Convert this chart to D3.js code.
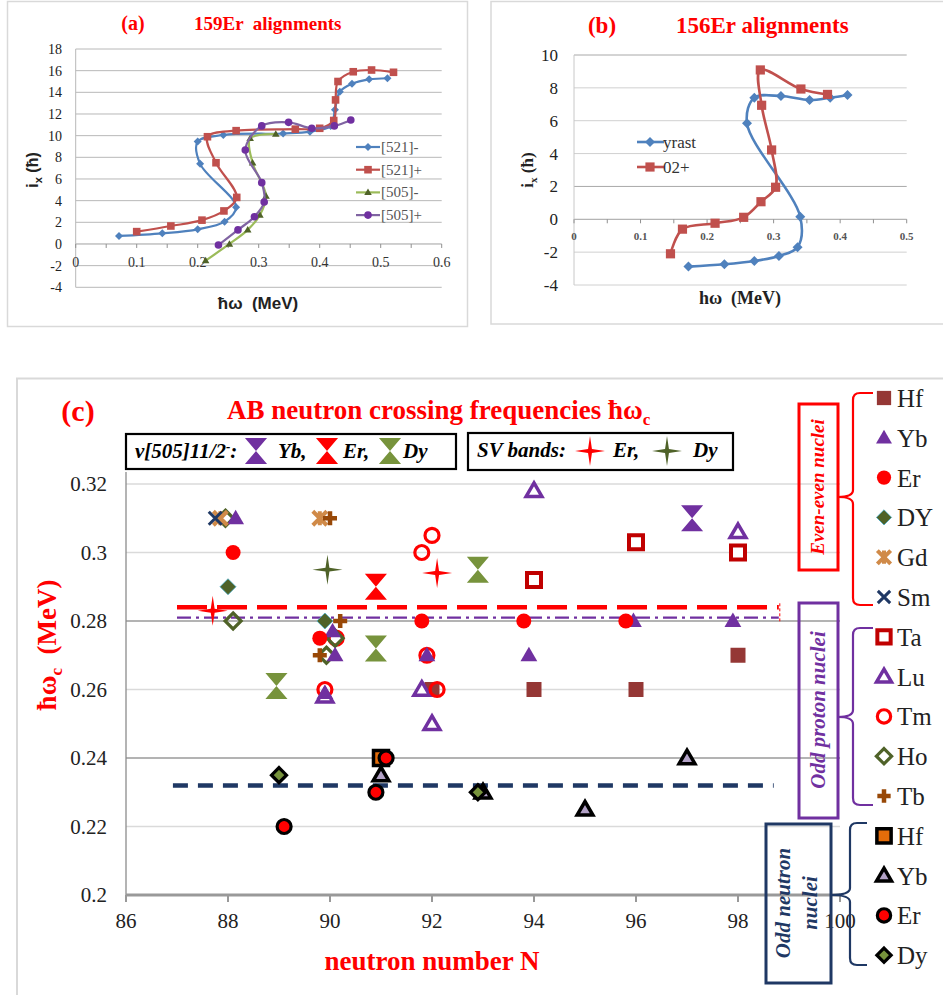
<!DOCTYPE html>
<html><head><meta charset="utf-8">
<script src="https://cdn.jsdelivr.net/npm/d3@7"></script>
<style>body{margin:0;background:#fff}svg{display:block}</style>
</head><body>
<svg id="fig" width="943" height="995"></svg>
<script>
// ---------- (a) 159Er aligned angular momentum vs rotational frequency ----------
const aTicksX = [0, 0.1, 0.2, 0.3, 0.4, 0.5, 0.6];
const aTicksY = [-4, -2, 0, 2, 4, 6, 8, 10, 12, 14, 16, 18];
const a521m = [[0.071,0.74],[0.142,0.98],[0.200,1.35],[0.244,2.06],[0.263,3.4],[0.204,7.4],[0.200,9.45],[0.242,10.06],[0.340,10.2],[0.384,10.37],[0.418,10.9],[0.425,12.4],[0.433,14.06],[0.453,14.8],[0.481,15.2],[0.511,15.3]];
const a521p = [[0.100,1.14],[0.156,1.66],[0.207,2.2],[0.243,3.05],[0.264,4.3],[0.230,7.5],[0.216,9.9],[0.263,10.46],[0.360,10.6],[0.400,10.68],[0.423,11.4],[0.426,13.3],[0.430,15.0],[0.455,15.9],[0.485,16.06],[0.521,15.85]];
const a505m = [[0.213,-1.54],[0.252,0.0],[0.282,1.3],[0.302,2.68],[0.312,4.43],[0.290,7.5],[0.286,9.75],[0.328,10.15]];
const a505p = [[0.234,-0.1],[0.266,1.3],[0.293,2.52],[0.309,3.88],[0.305,5.66],[0.278,8.68],[0.305,10.9],[0.349,11.23],[0.387,10.68],[0.424,10.9],[0.451,11.45]];
const aNames = ["[521]-", "[521]+", "[505]-", "[505]+"];

// ---------- (b) 156Er ----------
const bTicksX = [0, 0.1, 0.2, 0.3, 0.4, 0.5];
const bTicksY = [-4, -2, 0, 2, 4, 6, 8, 10];
const bYrast = [[0.172,-2.88],[0.226,-2.74],[0.271,-2.54],[0.308,-2.23],[0.336,-1.7],[0.340,0.16],[0.260,5.84],[0.271,7.4],[0.311,7.5],[0.354,7.26],[0.385,7.4],[0.411,7.57]];
const b02 = [[0.145,-2.1],[0.163,-0.6],[0.212,-0.24],[0.255,0.12],[0.281,1.07],[0.303,1.95],[0.297,4.22],[0.282,6.94],[0.280,9.09],[0.341,7.93],[0.381,7.6]];
const bNames = ["yrast", "02+"];

// ---------- (c) AB crossing frequencies ----------
const cTicksX = [86, 88, 90, 92, 94, 96, 98, 100];
const cTicksY = [0.2, 0.22, 0.24, 0.26, 0.28, 0.3, 0.32];
// even-even nuclei
const hfEE = [[92.0,0.26],[94.0,0.26],[96.0,0.26],[98.0,0.27]];
const ybEE = [[88.15,0.31],[90.05,0.277],[90.1,0.27],[89.9,0.259],[91.9,0.27],[93.9,0.27],[95.95,0.28],[97.9,0.28]];
const erEE = [[88.1,0.30],[89.8,0.275],[91.8,0.28],[93.8,0.28],[95.8,0.28]];
const dyEE = [[88.0,0.29],[89.9,0.28]];
const gdEE = [[87.85,0.31],[89.8,0.31]];
const smEE = [[87.75,0.31]];
// odd proton nuclei
const taOP = [[94.0,0.292],[96.0,0.303],[98.0,0.30]];
const luOP = [[89.9,0.258],[91.8,0.26],[92.0,0.25],[94.0,0.318],[98.0,0.306]];
const tmOP = [[89.9,0.26],[90.12,0.275],[91.9,0.27],[92.1,0.26],[91.8,0.30],[92.0,0.305]];
const hoOP = [[87.95,0.31],[88.1,0.28],[90.1,0.275],[89.93,0.27]];
const tbOP = [[90.0,0.31],[90.2,0.28],[89.8,0.27]];
// odd neutron nuclei
const hfON = [[91.0,0.24]];
const ybON = [[91.0,0.235],[93.0,0.23],[95.0,0.225],[97.0,0.24]];
const erON = [[89.1,0.22],[90.9,0.23],[91.1,0.24]];
const dyON = [[89.0,0.235],[92.9,0.23]];
// nu[505]11/2- crossings and SV bands
const ybHG = [[97.1,0.31]];
const erHG = [[90.9,0.29]];
const dyHG = [[88.95,0.261],[90.9,0.272],[92.9,0.295]];
const erSV = [[87.7,0.283],[92.1,0.294]];
const dySV = [[89.95,0.295]];
// average crossing frequencies
const avgEr = 0.284, avgYb = 0.281, avgOddN = 0.232;
const avgRange = [87.0, 98.8];
const legendNames = ["Hf","Yb","Er","DY","Gd","Sm","Ta","Lu","Tm","Ho","Tb","Hf","Yb","Er","Dy"];

const SERIF = "'Liberation Serif','Times New Roman',serif";
const SANS = "'Liberation Sans',Arial,sans-serif";
const svg = d3.select("#fig");

// ---------- marker shapes ----------
const shp = {
  square: r => `M${-r},${-r}H${r}V${r}H${-r}Z`,
  diamond: r => `M0,${-r}L${r},0L0,${r}L${-r},0Z`,
  triangle: r => `M0,${-r*1.05}L${r*1.05},${r*0.75}L${-r*1.05},${r*0.75}Z`,
  hourglass: r => `M${-r*0.85},${-r}H${r*0.85}L0,0L${r*0.85},${r}H${-r*0.85}L0,0Z`,
  star4: r => { const i = r*0.13; return `M0,${-r}L${i},${-i}L${r},0L${i},${i}L0,${r}L${-i},${i}L${-r},0L${-i},${-i}Z`; },
  cross: r => `M${-r},${-r}L${r},${r}M${r},${-r}L${-r},${r}`,
  asterisk: r => `M${-r},${-r}L${r},${r}M${r},${-r}L${-r},${r}M0,${-r}V${r}`,
  plus: r => `M${-r},0H${r}M0,${-r}V${r}`
};
function mark(g, type, x, y, r, st) {
  let el;
  if (type === "circle") el = g.append("circle").attr("cx", x).attr("cy", y).attr("r", r);
  else el = g.append("path").attr("d", shp[type](r)).attr("transform", `translate(${x},${y})`);
  el.attr("fill", st.fill || "none").attr("stroke", st.stroke || "none")
    .attr("stroke-width", st.sw || 0).attr("stroke-linejoin", "miter");
  return el;
}

// ================= panel (a) =================
(function(){
  const g = svg.append("g");
  g.append("rect").attr("x",7.5).attr("y",1.5).attr("width",460).attr("height",325)
    .attr("fill","none").attr("stroke","#d9d9d9").attr("stroke-width",1.5);
  const x = d3.scaleLinear().domain([0,0.6]).range([75.7,441.7]);
  const y = d3.scaleLinear().domain([-4,18]).range([287.3,49]);
  aTicksY.forEach(v => {
    g.append("line").attr("x1",x(0)).attr("x2",x(0.6)).attr("y1",y(v)).attr("y2",y(v))
      .attr("stroke", v===0 ? "#a0a0a0" : "#b8b8b8").attr("stroke-width",1);
    g.append("text").attr("x",62).attr("y",y(v)+5).attr("text-anchor","end")
      .attr("font-family",SERIF).attr("font-size",14).attr("fill","#222").text(v);
  });
  g.append("line").attr("x1",x(0)).attr("x2",x(0)).attr("y1",y(-4)).attr("y2",y(18)).attr("stroke","#b8b8b8");
  d3.range(0,0.6001,0.05).forEach(v => g.append("line").attr("x1",x(v)).attr("x2",x(v))
    .attr("y1",y(0)).attr("y2",y(0)+4).attr("stroke","#909090"));
  aTicksX.forEach(v => g.append("text").attr("x",x(v)).attr("y",y(0)+23).attr("text-anchor","middle")
    .attr("font-family",SERIF).attr("font-size",14).attr("fill","#333").text(v));
  g.append("text").attr("x",258).attr("y",309).attr("text-anchor","middle").attr("font-family",SANS)
    .attr("font-weight","bold").attr("font-size",17).attr("fill","#222").attr("xml:space","preserve").text("ħω  (MeV)");
  const yl = g.append("text").attr("transform","translate(38,170) rotate(-90)").attr("text-anchor","middle")
    .attr("font-family",SANS).attr("font-weight","bold").attr("font-size",16).attr("fill","#222");
  yl.append("tspan").text("i");
  yl.append("tspan").attr("dy",4).attr("font-size",11).text("x");
  yl.append("tspan").attr("dy",-4).text(" (ħ)");
  g.append("text").attr("x",133).attr("y",30).attr("text-anchor","middle").attr("font-family",SERIF)
    .attr("font-weight","bold").attr("font-size",20).attr("fill","#f00").text("(a)");
  g.append("text").attr("x",194).attr("y",30).attr("font-family",SERIF)
    .attr("font-weight","bold").attr("font-size",19).attr("fill","#f00").attr("xml:space","preserve").text("159Er  alignments");

  const line = d3.line().x(d=>x(d[0])).y(d=>y(d[1])).curve(d3.curveCatmullRom.alpha(0.5));
  const series = [
    {d:a521m, c:"#4f81bd", mc:"#4f81bd", m:"diamond", r:4},
    {d:a521p, c:"#c0504d", mc:"#c0504d", m:"square", r:3.8},
    {d:a505m, c:"#9bbb59", mc:"#4f6228", m:"triangle", r:3.6},
    {d:a505p, c:"#8064a2", mc:"#7030a0", m:"circle", r:3.8}
  ];
  series.forEach((s,i) => {
    g.append("path").attr("d",line(s.d)).attr("fill","none").attr("stroke",s.c).attr("stroke-width",2.2);
    s.d.forEach(p => mark(g, s.m, x(p[0]), y(p[1]), s.r, {fill:s.mc}));
    const ly = 147 + i*22.7;
    g.append("line").attr("x1",356).attr("x2",380).attr("y1",ly).attr("y2",ly).attr("stroke",s.c).attr("stroke-width",2.2);
    mark(g, s.m, 368, ly, s.r, {fill:s.mc});
    g.append("text").attr("x",381).attr("y",ly+5).attr("font-family",SERIF).attr("font-size",15)
      .attr("fill","#555").text(aNames[i]);
  });
})();

// ================= panel (b) =================
(function(){
  const g = svg.append("g");
  g.append("rect").attr("x",491).attr("y",1.5).attr("width",460).attr("height",322.5)
    .attr("fill","none").attr("stroke","#d9d9d9").attr("stroke-width",1.5);
  const x = d3.scaleLinear().domain([0,0.5]).range([574,906.7]);
  const y = d3.scaleLinear().domain([-4,10]).range([285,55]);
  bTicksY.forEach(v => {
    g.append("line").attr("x1",x(0)).attr("x2",x(0.5)).attr("y1",y(v)).attr("y2",y(v))
      .attr("stroke", v===0 ? "#a0a0a0" : (v===2||v===10 ? "#a8a8a8" : "#d0d0d0")).attr("stroke-width",1);
    g.append("text").attr("x",558).attr("y",y(v)+6).attr("text-anchor","end")
      .attr("font-family",SERIF).attr("font-size",17).attr("fill","#222").text(v);
  });
  g.append("line").attr("x1",x(0)).attr("x2",x(0)).attr("y1",y(-4)).attr("y2",y(10)).attr("stroke","#c8c8c8");
  d3.range(0,0.5001,0.05).forEach(v => g.append("line").attr("x1",x(v)).attr("x2",x(v))
    .attr("y1",y(0)).attr("y2",y(0)+4).attr("stroke","#909090"));
  bTicksX.forEach(v => g.append("text").attr("x",x(v)).attr("y",y(0)+21).attr("text-anchor","middle")
    .attr("font-family",SERIF).attr("font-weight","bold").attr("font-size",11).attr("fill","#555").text(v));
  g.append("text").attr("x",740).attr("y",304).attr("text-anchor","middle").attr("font-family",SERIF)
    .attr("font-weight","bold").attr("font-size",18).attr("fill","#222").attr("xml:space","preserve").text("hω  (MeV)");
  const yl = g.append("text").attr("transform","translate(533,170) rotate(-90)").attr("text-anchor","middle")
    .attr("font-family",SERIF).attr("font-weight","bold").attr("font-size",17).attr("fill","#222");
  yl.append("tspan").text("i");
  yl.append("tspan").attr("dy",4).attr("font-size",11).text("x");
  yl.append("tspan").attr("dy",-4).text(" (ħ)");
  g.append("text").attr("x",602).attr("y",33).attr("text-anchor","middle").attr("font-family",SERIF)
    .attr("font-weight","bold").attr("font-size",23).attr("fill","#f00").text("(b)");
  g.append("text").attr("x",676).attr("y",33).attr("font-family",SERIF)
    .attr("font-weight","bold").attr("font-size",23).attr("fill","#f00").text("156Er alignments");

  const line = d3.line().x(d=>x(d[0])).y(d=>y(d[1])).curve(d3.curveCatmullRom.alpha(0.5));
  const series = [
    {d:bYrast, c:"#4f81bd", m:"diamond", r:5},
    {d:b02, c:"#c0504d", m:"square", r:4.6}
  ];
  series.forEach((s,i) => {
    g.append("path").attr("d",line(s.d)).attr("fill","none").attr("stroke",s.c).attr("stroke-width",2.6);
    s.d.forEach(p => mark(g, s.m, x(p[0]), y(p[1]), s.r, {fill:s.c}));
    const ly = 142 + i*25;
    g.append("line").attr("x1",637).attr("x2",664).attr("y1",ly).attr("y2",ly).attr("stroke",s.c).attr("stroke-width",2.6);
    mark(g, s.m, 650, ly, s.r, {fill:s.c});
    g.append("text").attr("x",663).attr("y",ly+6).attr("font-family",SERIF).attr("font-size",17)
      .attr("fill","#333").text(bNames[i]);
  });
})();

// ================= panel (c) =================
(function(){
  const g = svg.append("g");
  g.append("path").attr("d","M17,995V378.5H943").attr("fill","none").attr("stroke","#d9d9d9").attr("stroke-width",2);
  const x = d3.scaleLinear().domain([86,100]).range([126,840]);
  const y = d3.scaleLinear().domain([0.2,0.32]).range([895,484]);

  cTicksY.forEach(v => {
    if (v > 0.2) g.append("line").attr("x1",x(86)).attr("x2",x(100)).attr("y1",y(v)).attr("y2",y(v))
      .attr("stroke", (v===0.24||v===0.28) ? "#9a9a9a" : "#dadada").attr("stroke-width",1.3);
    g.append("text").attr("x",107).attr("y",y(v)+7).attr("text-anchor","end")
      .attr("font-family",SERIF).attr("font-size",21).attr("fill","#222").text(v);
  });
  g.append("line").attr("x1",x(86)).attr("x2",x(86)).attr("y1",472).attr("y2",y(0.2)).attr("stroke","#8c8c8c").attr("stroke-width",1.3);
  g.append("line").attr("x1",x(86)).attr("x2",x(100)).attr("y1",y(0.2)).attr("y2",y(0.2)).attr("stroke","#999").attr("stroke-width",3);
  cTicksX.forEach(v => {
    g.append("line").attr("x1",x(v)).attr("x2",x(v)).attr("y1",y(0.2)).attr("y2",y(0.2)+7).attr("stroke","#999").attr("stroke-width",2);
    g.append("text").attr("x",x(v)).attr("y",928).attr("text-anchor","middle")
      .attr("font-family",SERIF).attr("font-size",21).attr("fill","#222").text(v);
  });

  // titles
  g.append("text").attr("x",78).attr("y",421).attr("text-anchor","middle").attr("font-family",SERIF)
    .attr("font-weight","bold").attr("font-size",30).attr("fill","#f00").text("(c)");
  const tt = g.append("text").attr("x",227).attr("y",419).attr("font-family",SERIF)
    .attr("font-weight","bold").attr("font-size",27).attr("fill","#f00");
  tt.append("tspan").text("AB neutron crossing frequencies ħω");
  tt.append("tspan").attr("dy",6).attr("font-size",17).text("c");
  g.append("text").attr("x",432).attr("y",970).attr("text-anchor","middle").attr("font-family",SERIF)
    .attr("font-weight","bold").attr("font-size",27).attr("fill","#f00").text("neutron number N");
  const yl = g.append("text").attr("transform","translate(56,645) rotate(-90)").attr("text-anchor","middle")
    .attr("font-family",SERIF).attr("font-weight","bold").attr("font-size",27).attr("fill","#f00").attr("xml:space","preserve");
  yl.append("tspan").text("ħω");
  yl.append("tspan").attr("dy",6).attr("font-size",17).text("c");
  yl.append("tspan").attr("dy",-6).text("  (MeV)");

  // average crossing lines
  g.append("line").attr("x1",x(avgRange[0])).attr("x2",x(avgRange[1])).attr("y1",y(avgEr)).attr("y2",y(avgEr))
    .attr("stroke","#f00").attr("stroke-width",4.5).attr("stroke-dasharray","30,10");
  g.append("line").attr("x1",x(avgRange[1])+1).attr("x2",x(avgRange[1])+1).attr("y1",y(avgEr)-4).attr("y2",y(avgYb)+5)
    .attr("stroke","#f00").attr("stroke-width",1).attr("stroke-dasharray","3,2");
  g.append("line").attr("x1",x(avgRange[0])).attr("x2",x(avgRange[1])).attr("y1",y(avgYb)).attr("y2",y(avgYb))
    .attr("stroke","#7030a0").attr("stroke-width",2.2).attr("stroke-dasharray","14,5,3,5");
  g.append("line").attr("x1",x(86.92)).attr("x2",x(98.7)).attr("y1",y(avgOddN)).attr("y2",y(avgOddN))
    .attr("stroke","#1f3864").attr("stroke-width",4.5).attr("stroke-dasharray","15,10");

  // marker styles
  const ST = {
    hfEE:{t:"square",r:7.5,s:{fill:"#953735"}},
    ybEE:{t:"triangle",r:8,s:{fill:"#7030a0"}},
    erEE:{t:"circle",r:7.5,s:{fill:"#ff0000"}},
    dyEE:{t:"diamond",r:8,s:{fill:"#4f6228",stroke:"#4bacc6",sw:0.8}},
    gdEE:{t:"asterisk",r:7,s:{stroke:"#d08a48",sw:4}},
    smEE:{t:"cross",r:6.5,s:{stroke:"#1f3864",sw:3}},
    taOP:{t:"square",r:7,s:{fill:"#fff",stroke:"#c00000",sw:4}},
    luOP:{t:"triangle",r:7.5,s:{fill:"#fff",stroke:"#7030a0",sw:3.5}},
    tmOP:{t:"circle",r:7,s:{fill:"none",stroke:"#ff0000",sw:3.2}},
    hoOP:{t:"diamond",r:8,s:{fill:"none",stroke:"#4f6228",sw:3.2}},
    tbOP:{t:"plus",r:7,s:{stroke:"#984807",sw:4.5}},
    hfON:{t:"square",r:7.5,s:{fill:"#e46c0a",stroke:"#000",sw:3.5}},
    ybON:{t:"triangle",r:7.5,s:{fill:"#b3a2c7",stroke:"#000",sw:3.5}},
    erON:{t:"circle",r:7,s:{fill:"#ff0000",stroke:"#000",sw:3.2}},
    dyON:{t:"diamond",r:7.5,s:{fill:"#77933c",stroke:"#000",sw:3.2}}
  };
  const dataSets = {hfEE,ybEE,erEE,dyEE,gdEE,smEE,taOP,luOP,tmOP,hoOP,tbOP,hfON,ybON,erON,dyON};
  const order = ["hfEE","taOP","luOP","tmOP","hoOP","ybEE","erEE","dyEE","gdEE","smEE","tbOP","hfON","ybON","erON","dyON"];
  order.forEach(k => dataSets[k].forEach(p => mark(g, ST[k].t, x(p[0]), y(p[1]), ST[k].r, ST[k].s)));
  // hourglass (nu[505]11/2-) and SV-band points
  [[ybHG,"#7030a0"],[erHG,"#ff0000"],[dyHG,"#77933c"]].forEach(([arr,c]) =>
    arr.forEach(p => mark(g, "hourglass", x(p[0]), y(p[1]), 13, {fill:c})));
  [[erSV,"#ff0000"],[dySV,"#4f6228"]].forEach(([arr,c]) =>
    arr.forEach(p => mark(g, "star4", x(p[0]), y(p[1]), 15, {fill:c})));

  // series legend boxes
  g.append("rect").attr("x",126).attr("y",434).attr("width",330).attr("height",35)
    .attr("fill","#fff").attr("stroke","#000").attr("stroke-width",2.2);
  const t1 = g.append("text").attr("x",135).attr("y",458).attr("font-family",SERIF).attr("font-style","italic")
    .attr("font-weight","bold").attr("font-size",21).attr("fill","#000");
  t1.append("tspan").text("ν[505]11/2");
  t1.append("tspan").attr("dy",-7).attr("font-size",13).text("-");
  t1.append("tspan").attr("dy",7).text(":");
  mark(g,"hourglass",256,451,13,{fill:"#7030a0"});
  mark(g,"hourglass",327,451,13,{fill:"#ff0000"});
  mark(g,"hourglass",390,451,13,{fill:"#77933c"});
  [["Yb,",278],["Er,",343],["Dy",403]].forEach(([s,xx]) => g.append("text").attr("x",xx).attr("y",458)
    .attr("font-family",SERIF).attr("font-style","italic").attr("font-weight","bold").attr("font-size",21).text(s));

  g.append("rect").attr("x",468).attr("y",433).attr("width",265).attr("height",37)
    .attr("fill","#fff").attr("stroke","#000").attr("stroke-width",2.2);
  g.append("text").attr("x",477).attr("y",457).attr("font-family",SERIF).attr("font-style","italic")
    .attr("font-weight","bold").attr("font-size",21).text("SV bands:");
  mark(g,"star4",590,451,15,{fill:"#ff0000"});
  mark(g,"star4",667,451,15,{fill:"#4f6228"});
  [["Er,",613],["Dy",693]].forEach(([s,xx]) => g.append("text").attr("x",xx).attr("y",457)
    .attr("font-family",SERIF).attr("font-style","italic").attr("font-weight","bold").attr("font-size",21).text(s));

  // group labels with brackets
  function groupBox(x0,y0,w,h,c,lines,cy,fs){
    g.append("rect").attr("x",x0).attr("y",y0).attr("width",w).attr("height",h)
      .attr("fill","none").attr("stroke",c).attr("stroke-width",3);
    lines.forEach(([s,lx]) => g.append("text").attr("transform",`translate(${lx},${cy}) rotate(-90)`)
      .attr("text-anchor","middle").attr("font-family",SERIF).attr("font-style","italic").attr("font-weight","bold")
      .attr("font-size",fs).attr("fill",c).text(s));
  }
  function brace(xv,y0,y1,ym,xl,xr,c){
    g.append("path").attr("d",`M${xr},${y0}H${xv+7}Q${xv},${y0} ${xv},${y0+7}V${ym-7}Q${xv},${ym} ${xl},${ym}Q${xv},${ym} ${xv},${ym+7}V${y1-7}Q${xv},${y1} ${xv+7},${y1}H${xr}`)
      .attr("fill","none").attr("stroke",c).attr("stroke-width",2.2);
  }
  groupBox(799,404,39,166,"#ff0000",[["Even-even nuclei",824]],487,19);
  brace(853,393,605,497,838,873,"#ff0000");
  groupBox(799,603,39,215,"#7030a0",[["Odd proton nuclei",825]],710,21);
  brace(853,628,805,717,838,873,"#7030a0");
  groupBox(766,824,65,159,"#1f3864",[["Odd neutron",790],["nuclei",817]],903,21);
  brace(850,823,965,895,831,867,"#1f3864");

  // marker legend
  const legKeys = ["hfEE","ybEE","erEE","dyEE","gdEE","smEE","taOP","luOP","tmOP","hoOP","tbOP","hfON","ybON","erON","dyON"];
  legKeys.forEach((k,i) => {
    const ly = 398 + i*39.8;
    mark(g, ST[k].t, 884, ly, ST[k].r*0.95, ST[k].s);
    g.append("text").attr("x",897).attr("y",ly+9).attr("font-family",SERIF).attr("font-size",25)
      .attr("fill","#222").text(legendNames[i]);
  });
})();
</script>
</body></html>
